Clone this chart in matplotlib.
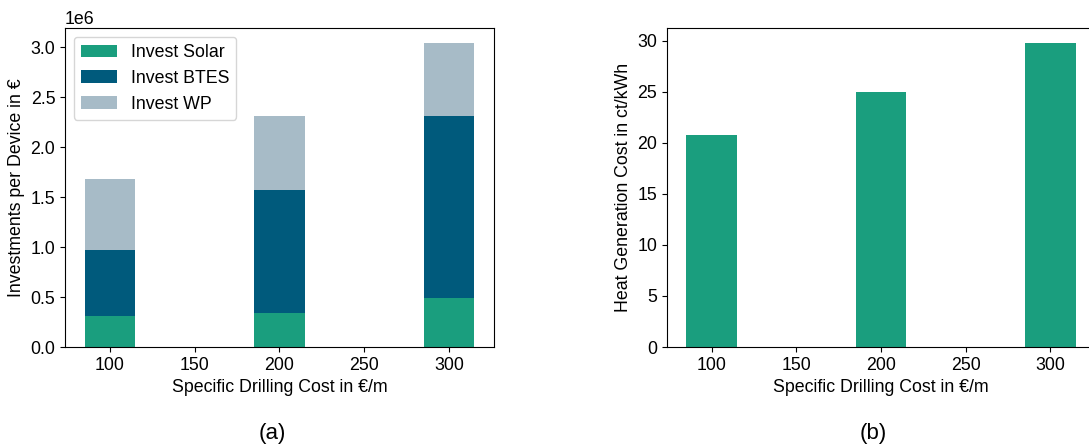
import numpy as np
import matplotlib
matplotlib.use("Agg")
import matplotlib.pyplot as plt

plt.rcParams['font.family'] = ['Liberation Sans', 'DejaVu Sans']
plt.rcParams['font.size'] = 12.8

# drilling cost steps in €/m
drilling_cost = [100, 200, 300]

# investments per device (in €)
invest_solar = np.array([0.314, 0.344, 0.494]) * 1e6
invest_btes = np.array([0.659, 1.231, 1.813]) * 1e6
invest_wp = np.array([0.709, 0.732, 0.732]) * 1e6

# heat generation cost in ct/kWh
heat_cost = [20.78, 25.0, 29.74]

c_solar = '#1a9e7e'
c_btes = '#005a7c'
c_wp = '#a7bbc7'

fig = plt.figure(figsize=(10.89, 4.48), dpi=100)
ax1 = fig.add_axes([0.0597, 0.2254, 0.3939, 0.7121])
ax2 = fig.add_axes([0.6125, 0.2254, 0.3930, 0.7121])

# (a) stacked investments
ax1.bar(drilling_cost, invest_solar, width=30, color=c_solar, label='Invest Solar')
ax1.bar(drilling_cost, invest_btes, width=30, bottom=invest_solar, color=c_btes, label='Invest BTES')
ax1.bar(drilling_cost, invest_wp, width=30, bottom=invest_solar + invest_btes, color=c_wp, label='Invest WP')
ax1.set_xticks([100, 150, 200, 250, 300])
ax1.set_xlabel('Specific Drilling Cost in €/m')
ax1.set_ylabel('Investments per Device in €')
ax1.legend(loc='upper left')

# (b) heat generation cost
ax2.bar(drilling_cost, heat_cost, width=30, color=c_solar)
ax2.set_xticks([100, 150, 200, 250, 300])
ax2.set_xlabel('Specific Drilling Cost in €/m')
ax2.set_ylabel('Heat Generation Cost in ct/kWh')

fig.text(272 / 1089, 1 - 433 / 448, '(a)', ha='center', va='center', fontsize=16)
fig.text(873 / 1089, 1 - 433 / 448, '(b)', ha='center', va='center', fontsize=16)

fig.savefig('out.png', dpi=100)
